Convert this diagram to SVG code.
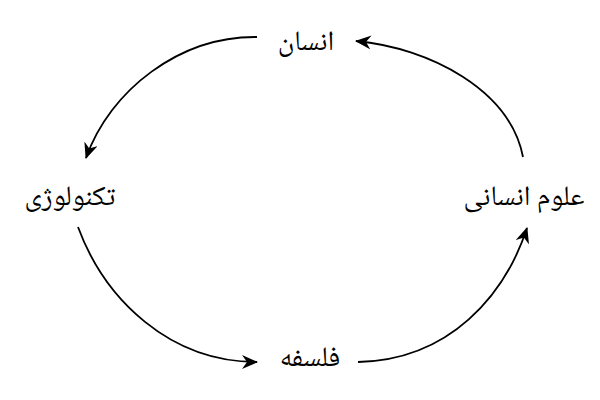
<svg xmlns="http://www.w3.org/2000/svg" width="600" height="400" viewBox="0 0 600 400">
<defs>
<style>
.lbl{font-family:"Noto Naskh Arabic","Noto Sans Arabic","DejaVu Sans",sans-serif;font-size:28px;fill:#000;text-anchor:middle;direction:rtl}
.edge{fill:none;stroke:#000;stroke-width:1.8}
</style>
<marker id="ah" viewBox="0 0 16 14" refX="15" refY="7" markerWidth="16" markerHeight="14" markerUnits="userSpaceOnUse" orient="auto">
<path d="M0,0 L16,7 L0,14 L5,7 Z" fill="#000"/>
</marker>
</defs>
<rect width="600" height="400" fill="#fff"/>
<g id="connectors">
<path class="edge" d="M257,37 C180,36 110,90 86,158" marker-end="url(#ah)"/>
<path class="edge" d="M78,227 C105,300 170,362 257,362" marker-end="url(#ah)"/>
<path class="edge" d="M358,362 C450,360 505,295 527,228" marker-end="url(#ah)"/>
<path class="edge" d="M523,157 C510,90 430,48 356,41" marker-end="url(#ah)"/>
</g>
<g id="node-ensan"><text class="lbl" x="306" y="50">انسان</text></g>
<g id="node-technology"><text class="lbl" x="70" y="205">تکنولوژی</text></g>
<g id="node-philosophy"><text class="lbl" x="310" y="366">فلسفه</text></g>
<g id="node-humanities"><text class="lbl" x="524" y="205">علوم انسانی</text></g>
</svg>
